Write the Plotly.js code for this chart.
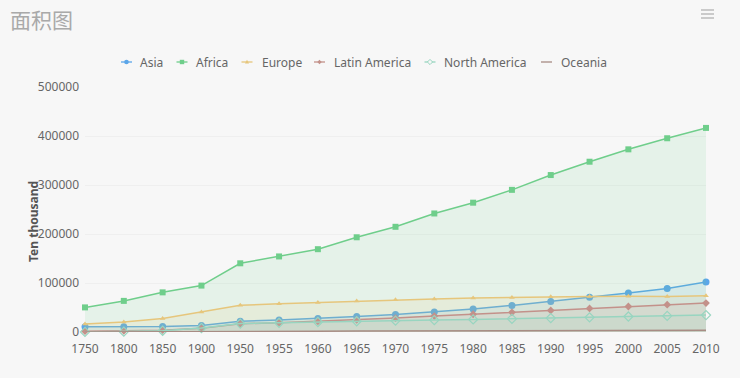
<!DOCTYPE html>
<html>
<head>
<meta charset="utf-8">
<script src="https://cdn.plot.ly/plotly-3.0.1.min.js"></script>
<style>
html,body{margin:0;padding:0;background:#f7f7f7;}
#chart{width:740px;height:378px;}
</style>
</head>
<body>
<div id="chart"></div>
<script>
// ---- data (ten thousand) ----
const years = ['1750','1800','1850','1900','1950','1955','1960','1965','1970','1975','1980','1985','1990','1995','2000','2005','2010'];
const seriesNames = ['Asia','Africa','Europe','Latin America','North America','Oceania'];
const asia = [10600,10700,11100,13300,22100,24700,27700,31400,35700,40800,47000,54200,62200,70700,79600,88800,102200];
const africa = [50200,63500,80900,94700,140200,154200,169000,193300,214700,241900,263900,290100,320300,347500,372800,395400,416500];
const europe = [16300,20300,27600,40800,54700,57500,60100,63400,65600,67500,69200,70600,72100,72700,72800,72500,73800];
const latinAmerica = [1600,2400,3800,7400,16700,19000,21800,25000,28500,32400,36200,40100,44100,48100,52000,55800,59000];
const northAmerica = [200,700,2600,8200,17200,18700,20400,21900,23100,24300,25600,26900,28400,30000,31600,32900,34500];
const oceania = [200,200,200,600,1300,1400,1600,1800,1900,2100,2300,2500,2700,2900,3100,3300,3500];
const yTickVals = [0,100000,200000,300000,400000,500000];
const titleText = '面积图';
const yTitleText = 'Ten thousand';

// ---- styles ----
const values = [asia, africa, europe, latinAmerica, northAmerica, oceania];
const colors = ['#5ba6e9','#6fce8b','#e6c67c','#c3918a','#98d5c0','#a88c84'];
const fillAlpha = [0.12,0.13,0.13,0.12,0.12,0.12];
const symbols = ['circle','square','triangle-up','diamond','diamond-open',null];
const sizes = [7,6,5,6,7,0];

function rgba(hex,a){
  const r=parseInt(hex.slice(1,3),16),g=parseInt(hex.slice(3,5),16),b=parseInt(hex.slice(5,7),16);
  return 'rgba('+r+','+g+','+b+','+a+')';
}

const M = {l:85, r:34, t:87, b:46};
const PW = 740 - M.l - M.r, PH = 378 - M.t - M.b;
const px2x = px => (px - M.l) / PW;
const py2y = py => (378 - M.b - py) / PH;

const traces = seriesNames.map((name,i)=>{
  const t = {
    type:'scatter',
    name:name,
    x:years,
    y:values[i],
    mode: symbols[i] ? 'lines+markers' : 'lines',
    fill:'tozeroy',
    fillcolor: rgba(colors[i], fillAlpha[i]),
    line:{color:colors[i], width:1.5},
    cliponaxis:false,
    showlegend:false,
    hoverinfo:'x+y+name'
  };
  if (symbols[i]) {
    t.marker = {symbol:symbols[i], size:sizes[i], color:colors[i],
      line:{color:colors[i], width: symbols[i]==='diamond-open'?1.2:0}};
  }
  return t;
});

// ---- legend (drawn with shapes + annotations) ----
const legendIconCx = [126.5, 182, 247, 319.5, 430, 546.5];
const legendTextX = [138, 194, 259.5, 331.5, 442, 558.5];
const legendY = 62;
const shapes = [];
const annotations = [];

function pathFromPx(pts){
  return pts.map((p,k)=>(k?'L':'M')+px2x(p[0]).toFixed(5)+','+py2y(p[1]).toFixed(5)).join(' ')+' Z';
}

seriesNames.forEach((name,i)=>{
  const c = legendIconCx[i];
  shapes.push({type:'line', xref:'paper', yref:'paper', x0:px2x(c-5.5), x1:px2x(c+5.5), y0:py2y(legendY), y1:py2y(legendY), line:{color:colors[i], width:1.3}});
  const s = symbols[i];
  if (s==='circle'){
    shapes.push({type:'circle', xref:'paper', yref:'paper', x0:px2x(c-2.3), x1:px2x(c+2.3), y0:py2y(legendY+2.3), y1:py2y(legendY-2.3), fillcolor:colors[i], line:{width:0}});
  } else if (s==='square'){
    shapes.push({type:'rect', xref:'paper', yref:'paper', x0:px2x(c-2.2), x1:px2x(c+2.2), y0:py2y(legendY+2.2), y1:py2y(legendY-2.2), fillcolor:colors[i], line:{width:0}});
  } else if (s==='triangle-up'){
    shapes.push({type:'path', xref:'paper', yref:'paper', path:pathFromPx([[c,legendY-2.2],[c+2,legendY+1.5],[c-2,legendY+1.5]]), fillcolor:colors[i], line:{width:0}});
  } else if (s==='diamond'){
    shapes.push({type:'path', xref:'paper', yref:'paper', path:pathFromPx([[c,legendY-2.2],[c+2.2,legendY],[c,legendY+2.2],[c-2.2,legendY]]), fillcolor:colors[i], line:{width:0}});
  } else if (s==='diamond-open'){
    shapes.push({type:'path', xref:'paper', yref:'paper', path:pathFromPx([[c,legendY-2.6],[c+2.6,legendY],[c,legendY+2.6],[c-2.6,legendY]]), fillcolor:'#f7f7f7', line:{color:colors[i], width:1}});
  }
  annotations.push({
    xref:'paper', yref:'paper', x:px2x(legendTextX[i]), y:py2y(legendY),
    xanchor:'left', yanchor:'middle', showarrow:false, text:name,
    font:{family:'Noto Sans, sans-serif', size:12, color:'#666666'}
  });
});

// y axis title
annotations.push({
  xref:'paper', yref:'paper', x:px2x(33), y:py2y(222), xanchor:'center', yanchor:'middle',
  showarrow:false, textangle:-90, text:'<b>'+yTitleText+'</b>',
  font:{family:'Noto Sans, sans-serif', size:12, color:'#555555'}
});

// toolbox (hamburger) icon
[10,14,18].forEach(py=>{
  shapes.push({type:'line', xref:'paper', yref:'paper', x0:px2x(701), x1:px2x(714), y0:py2y(py), y1:py2y(py), line:{color:'#c4c4c4', width:1.8}});
});

const layout = {
  width:740, height:378,
  margin:M,
  paper_bgcolor:'#f7f7f7',
  plot_bgcolor:'#f7f7f7',
  font:{family:'Noto Sans, sans-serif', size:12, color:'#666666'},
  title:{
    text:titleText, xref:'container', yref:'container', x:10/740, xanchor:'left',
    y:1-21/378, yanchor:'middle',
    font:{family:'Noto Sans CJK SC, sans-serif', size:21, color:'#a9a9a9'}
  },
  showlegend:false,
  xaxis:{
    type:'category', range:[0, years.length-1],
    showgrid:false, zeroline:false, showline:false, ticks:'',
    tickfont:{size:12, color:'#666666'}, ticklabelstandoff:8, fixedrange:true
  },
  yaxis:{
    range:[0,500000], tickvals:yTickVals, tickformat:'d',
    showgrid:true, gridcolor:'#efefef', gridwidth:1,
    zeroline:false, showline:false, ticks:'',
    tickfont:{size:12, color:'#666666'}, ticklabelstandoff:5, fixedrange:true
  },
  shapes:shapes,
  annotations:annotations
};

Plotly.newPlot('chart', traces, layout, {displayModeBar:false});
</script>
</body>
</html>
